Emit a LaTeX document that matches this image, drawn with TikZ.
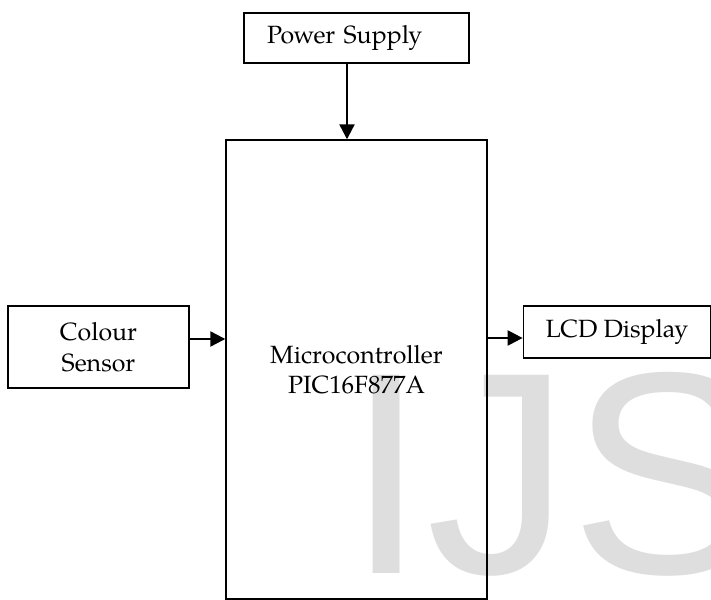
\documentclass[tikz,border=0pt]{standalone}
\usepackage{fontspec}
\setmainfont{TeX Gyre Pagella}
\newfontfamily\wmfont{Liberation Sans}
\usetikzlibrary{arrows.meta}

\tikzset{
  blockbox/.style={draw, line width=1pt, inner sep=0pt, align=center},
  flow/.style={-{Triangle[length=0.3cm,width=0.3cm]}, line width=1.3pt},
}

\begin{document}
\begin{tikzpicture}[font=\fontsize{14.2}{17.4}\selectfont]
  \useasboundingbox (0,0) rectangle (14.22,12);

  % Watermark letters in the back
  \node[anchor=base west, inner sep=0pt, text=black!13, font=\wmfont\fontsize{164}{164}\selectfont] (mark) at (6.92,0.52) {IJS};

  % Microcontroller block
  \node[blockbox, line width=0.8pt, minimum width=5.22cm, minimum height=9.18cm] (micro) at (7.13,4.61) {Microcontroller\\PIC16F877A};

  % Power supply block (text sits to the left)
  \node[blockbox, minimum width=4.5cm, minimum height=1cm, text width=3.58cm, inner xsep=0.46cm, align=left] (power) at (7.13,11.24) {Power Supply};

  % Colour sensor block
  \node[blockbox, minimum width=3.62cm, minimum height=1.64cm] (sensor) at (1.97,5.06) {Colour\\Sensor};

  % LCD block
  \node[blockbox, minimum width=3.74cm, minimum height=1.04cm] (lcd) at (12.34,5.36) {LCD Display};

  % Connections
  \draw[flow] ([xshift=-0.19cm]power.south) -- ([xshift=-0.19cm]power.south |- micro.north);
  \draw[flow] ([yshift=0.16cm]sensor.east) -- ([yshift=0.16cm]sensor.east -| micro.west);
  \draw[flow] ([yshift=-0.12cm]lcd.west -| micro.east) -- ([yshift=-0.12cm]lcd.west);
\end{tikzpicture}
\end{document}
